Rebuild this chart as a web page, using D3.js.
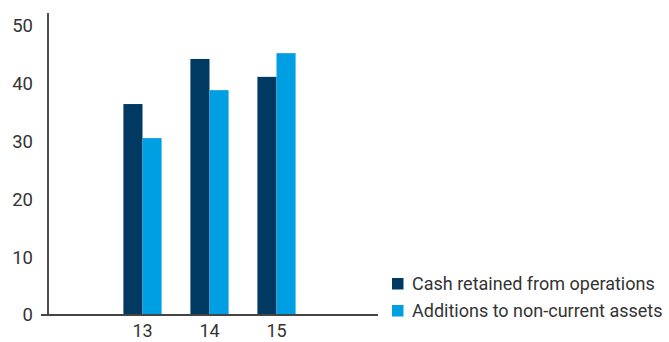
<!DOCTYPE html>
<html>
<head>
<meta charset="utf-8">
<script src="https://cdn.jsdelivr.net/npm/d3@7"></script>
<style>
  html, body { margin: 0; padding: 0; background: #fff; }
  svg { display: block; }
  text { font-family: Roboto, "Open Sans", sans-serif; fill: #333; }
</style>
</head>
<body>
<svg id="chart" width="669" height="342"></svg>
<script>
// Years shown on the x axis
const years = ["13", "14", "15"];
// Series values
const cashRetained = [36.5, 44.3, 41.2];
const additions = [30.6, 38.9, 45.3];
const seriesNames = ["Cash retained from operations", "Additions to non-current assets"];
const seriesColors = ["#003a62", "#009fe3"];
const yTicks = [0, 10, 20, 30, 40, 50];

const svg = d3.select("#chart");

const x0 = 41, x1 = 378, yBase = 315, yTop = 26;

const x = d3.scaleBand()
  .domain(years)
  .range([x0, x1])
  .paddingInner(0.43)
  .paddingOuter(1.23);

const series = seriesNames.map((name, i) => ({
  name,
  color: seriesColors[i],
  values: i === 0 ? cashRetained : additions
}));

const xs = d3.scaleBand()
  .domain(seriesNames)
  .range([0, x.bandwidth()]);

const y = d3.scaleLinear().domain([0, 50]).range([yBase, yTop]);

// Bars
const groups = svg.append("g").selectAll("g")
  .data(years)
  .join("g")
  .attr("transform", d => `translate(${x(d)},0)`);

groups.selectAll("rect")
  .data((d, i) => series.map(s => ({ s, v: s.values[i] })))
  .join("rect")
  .attr("x", d => xs(d.s.name))
  .attr("width", xs.bandwidth())
  .attr("y", d => y(d.v))
  .attr("height", d => yBase - y(d.v))
  .attr("fill", d => d.s.color);

// Y axis labels
const yAxis = d3.axisLeft(y).tickValues(yTicks).tickSize(0).tickPadding(15);
const yg = svg.append("g").attr("transform", "translate(48,0)").call(yAxis);
yg.select(".domain").remove();
yg.selectAll("text")
  .style("font-family", "Roboto, sans-serif")
  .style("font-size", "18.5px")
  .attr("fill", "#333");

// Vertical axis line
svg.append("line")
  .attr("x1", 48).attr("x2", 48)
  .attr("y1", 13).attr("y2", yBase)
  .attr("stroke", "#111").attr("stroke-width", 1.5);

// Baseline
svg.append("line")
  .attr("x1", x0).attr("x2", x1)
  .attr("y1", yBase).attr("y2", yBase)
  .attr("stroke", "#444").attr("stroke-width", 2);

// X axis labels
const xAxis = d3.axisBottom(x).tickSize(0).tickPadding(9);
const xg = svg.append("g").attr("transform", `translate(0,${yBase})`).call(xAxis);
xg.select(".domain").remove();
xg.selectAll("text")
  .style("font-family", "Roboto, sans-serif")
  .style("font-size", "18px")
  .attr("fill", "#333");

// Legend
const legend = svg.append("g").attr("transform", "translate(392,278)");
const items = legend.selectAll("g")
  .data(series)
  .join("g")
  .attr("transform", (d, i) => `translate(0,${i * 27})`);
items.append("rect")
  .attr("width", 11.5).attr("height", 11.5)
  .attr("fill", d => d.color);
items.append("text")
  .attr("x", 20).attr("y", 6)
  .attr("dy", "0.35em")
  .style("font-size", "18px")
  .text(d => d.name);
</script>
</body>
</html>
